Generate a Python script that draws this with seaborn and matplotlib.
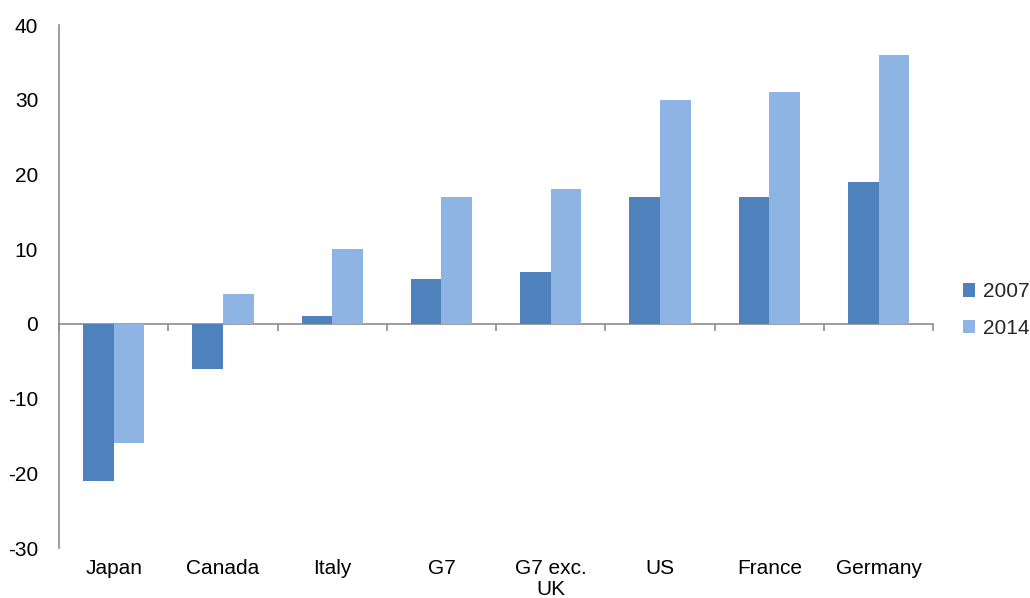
import numpy as np
import pandas as pd
import matplotlib
matplotlib.use("Agg")
import matplotlib.pyplot as plt
import seaborn as sns

countries = ["Japan", "Canada", "Italy", "G7", "G7 exc.\nUK", "US", "France", "Germany"]
vals_2007 = [-21, -6, 1, 6, 7, 17, 17, 19]
vals_2014 = [-16, 4, 10, 17, 18, 30, 31, 36]
years = ["2007", "2014"]
colors = ["#4F81BD", "#8EB4E3"]

df = pd.DataFrame({
    "country": countries * 2,
    "value": vals_2007 + vals_2014,
    "year": ["2007"] * len(countries) + ["2014"] * len(countries),
})

sns.set_style("white")
plt.rcParams["font.family"] = ["Liberation Sans", "DejaVu Sans"]
plt.rcParams["axes.unicode_minus"] = False

fig, ax = plt.subplots(figsize=(10.3, 5.98), dpi=100)
fig.subplots_adjust(left=0.0573, right=0.906, top=0.958, bottom=0.0836)

sns.barplot(data=df, x="country", y="value", hue="year", hue_order=years,
            palette=colors, saturation=1, width=0.56, gap=0, linewidth=0,
            ax=ax)

grey = "#8C8C8C"
ax.set_ylim(-30, 40)
ax.set_xlim(-0.5, len(countries) - 0.5)
ax.set_yticks(np.arange(-30, 41, 10))
ax.set_xlabel("")
ax.set_ylabel("")

for s in ["top", "right", "bottom"]:
    ax.spines[s].set_visible(False)
ax.spines["left"].set_color(grey)
ax.spines["left"].set_linewidth(1.2)

ax.tick_params(axis="y", direction="out", length=5, color=grey, width=1.2,
               labelsize=15, labelcolor="black", pad=10)
ax.tick_params(axis="x", length=0, labelsize=15, labelcolor="black", pad=8)
ax.set_xticks(range(len(countries)), labels=countries)
for t in ax.get_xticklabels():
    t.set_verticalalignment("top")
    t.set_linespacing(1.1)

# zero line with category boundary ticks
zero = ax.secondary_xaxis(30 / 70)
zero.set_xticks(np.arange(-0.5, len(countries), 1.0), labels=[""] * (len(countries) + 1))
zero.spines["bottom"].set_color(grey)
zero.spines["bottom"].set_linewidth(1.2)
zero.tick_params(direction="out", length=5, color=grey, width=1.2)

leg = ax.legend(loc="center left", bbox_to_anchor=(1.034, 0.455), frameon=False,
                fontsize=15, handlelength=0.6, handleheight=0.6,
                handletextpad=0.35, labelspacing=0.85, borderaxespad=0,
                borderpad=0)

fig.savefig("out.png", dpi=100)
